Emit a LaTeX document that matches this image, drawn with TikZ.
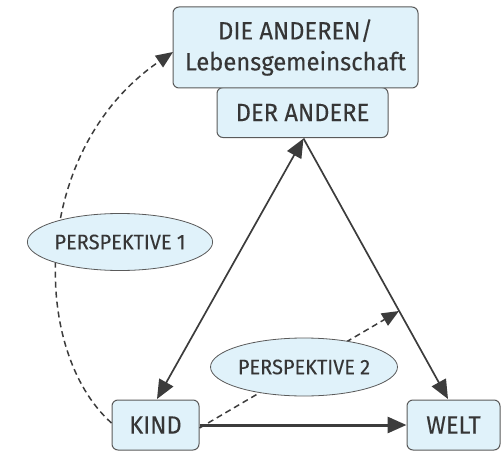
\documentclass[tikz,border=0pt]{standalone}
\usepackage{fontspec}
\setmainfont{Fira Sans}[FakeStretch=0.95,FakeBold=0.15]
\usetikzlibrary{arrows.meta,shapes.geometric}
\definecolor{boxfill}{HTML}{E0F2FA}
\definecolor{boxline}{HTML}{5A5A5A}
\definecolor{txt}{HTML}{363636}
\definecolor{arr}{HTML}{3C3C3C}
\tikzset{
  box/.style={draw=boxline, fill=boxfill, rounded corners=6pt, line width=1pt,
    text=txt, inner sep=0pt, align=center, font=\fontsize{25}{31}\selectfont},
  persp/.style={ellipse, draw=boxline, fill=boxfill, line width=0.8pt,
    text=txt, inner sep=0pt, font=\fontsize{21}{24}\selectfont},
  conn/.style={draw=arr, line width=1.7pt, -{Triangle[length=19pt,width=16pt]}},
  dconn/.style={draw=arr, line width=1.5pt, dash pattern=on 6pt off 4pt,
    -{Triangle[length=17pt,width=14pt]}},
}
\begin{document}
\begin{tikzpicture}[x=1pt,y=-1pt]
\useasboundingbox (0,0) rectangle (501,452);
% boxes
\node[box, minimum width=171pt, minimum height=50pt] (der) at (302.5,112.5) {\raisebox{-2pt}{DER ANDERE}};
\node[box, minimum width=245pt, minimum height=81pt] (top) at (295.5,47.5) {DIE ANDEREN/\\Lebensgemeinschaft};
\node[box, minimum width=87pt, minimum height=50pt] (kind) at (155.5,425) {\raisebox{-2pt}{KIND}};
\node[box, minimum width=93pt, minimum height=50pt] (welt) at (453.5,425) {\raisebox{-2pt}{WELT}};
\coordinate (c) at (303.5,138.5);
\coordinate (wl) at (399,311);
\coordinate (tl) at (173,52);
% connectors
\draw[conn, line width=3pt] (kind.east) -- (welt.west);
\draw[conn, {Triangle[length=19pt,width=16pt]}-{Triangle[length=19pt,width=16pt]}] (c) -- (157,399);
\draw[conn] (c) -- (448,399);
\draw[dconn] ([yshift=-3pt]kind.east) -- (wl);
\draw[dconn] ([yshift=2pt]kind.west) .. controls (30,350) and (30,150) .. (tl);
% ellipses
\node[persp, minimum width=184pt, minimum height=57pt] (p1) at (120,242) {PERSPEKTIVE 1};
\node[persp, minimum width=182pt, minimum height=58pt] (p2) at (304,367) {PERSPEKTIVE 2};
\end{tikzpicture}
\end{document}
